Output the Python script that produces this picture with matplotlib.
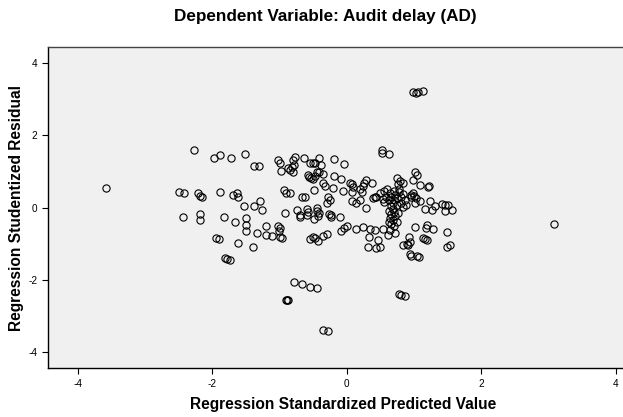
#!/usr/bin/env python3
"""SPSS-style residual scatterplot: studentized residual vs standardized predicted value."""

import matplotlib

matplotlib.use("Agg")
import matplotlib.pyplot as plt

# Regression Standardized Predicted Value (x) and Studentized Residual (y),
# read point by point off the reference chart.
pred_value = [
    # left wing
    -3.58, -2.50, -2.42, -2.27, -2.21, -2.19, -2.15, -2.43, -2.18, -2.18,
    -1.97, -1.89, -1.73, -1.51, -1.38, -1.30, -1.88, -1.69, -1.64, -1.62,
    -1.83, -1.67, -1.53, -1.50, -1.50, -1.50, -1.38, -1.29, -1.26, -1.34,
    -1.21, -1.21, -1.95, -1.90, -1.62, -1.39, -1.82, -1.78, -1.74,
    # centre-left
    -1.12, -1.02, -1.00, -0.98, -0.87, -0.85, -0.80, -0.77, -0.78, -0.80,
    -0.82, -0.93, -0.90, -0.85, -0.92, -1.02, -1.00, -1.01, -0.97, -1.00,
    -0.74, -0.70, -0.60, -0.58, -0.59, -0.69, -0.66, -0.62, -0.64, -0.55,
    -0.51, -0.48, -0.42, -0.38, -0.41, -0.45, -0.36, -0.58, -0.57, -0.54,
    -0.50, -0.48, -0.49, -0.45, -0.44, -0.41, -0.43, -0.49, -0.35, -0.32,
    -0.20, -0.19, -0.09, -0.04, -0.19, -0.28, -0.25, -0.29, -0.26, -0.24,
    -0.23, -0.10, -0.55, -0.50, -0.48, -0.43, -0.35, -0.29, -0.78, -0.67,
    -0.55, -0.44, -0.91, -0.89, -0.87, -0.36, -0.28, -0.05,
    # centre-right
    0.04, 0.07, 0.09, 0.19, 0.24, 0.28, 0.26, 0.38, 0.22, 0.08,
    0.07, 0.14, 0.19, 0.29, 0.42, 0.49, 0.54, 0.44, 0.39, -0.08,
    -0.04, 0.00, 0.14, 0.24, 0.34, 0.42, 0.54, 0.33, 0.47, 0.32,
    0.44, 0.49, 0.52, 0.53, 0.63,
    # dense cluster
    0.74, 0.79, 0.84, 0.76, 0.56, 0.60, 0.64, 0.66, 0.58, 0.62,
    0.70, 0.72, 0.75, 0.78, 0.80, 0.83, 0.86, 0.68, 0.74, 0.80,
    0.88, 0.55, 0.65, 0.84, 0.70, 0.77, 0.62, 0.66, 0.70, 0.64,
    0.68, 0.72, 0.66, 0.70, 0.74, 0.62, 0.76, 0.68, 0.64, 0.71,
    0.61,
    # right wing
    0.99, 1.03, 1.06, 1.14, 1.01, 1.04, 0.99, 1.09, 1.20, 1.22,
    0.98, 0.95, 1.03, 1.09, 1.01, 0.96, 1.00, 1.24, 1.16, 1.26,
    1.31, 1.41, 1.46, 1.51, 1.57, 1.46, 1.01, 1.19, 1.18, 1.28,
    1.49, 0.93, 0.94, 0.84, 0.89, 0.91, 1.13, 1.16, 1.19, 0.94,
    0.96, 1.05, 1.07, 1.49, 1.53, 0.78, 0.81, 0.87, 3.08,
]
stud_resid = [
    # left wing
    0.54, 0.44, 0.41, 1.58, 0.41, 0.33, 0.29, -0.25, -0.17, -0.35,
    1.36, 1.44, 1.36, 1.48, 1.14, 1.16, 0.43, 0.35, 0.40, 0.30,
    -0.25, -0.40, 0.03, -0.30, -0.48, -0.64, 0.05, 0.17, -0.08, -0.71,
    -0.51, -0.75, -0.85, -0.87, -0.99, -1.09, -1.40, -1.42, -1.44,
    # centre-left
    -0.78, 1.32, 1.22, 1.02, 1.09, 1.04, 1.32, 1.41, 1.18, 0.97,
    1.13, 0.49, 0.41, 0.40, -0.14, -0.52, -0.57, -0.64, -0.85, -0.82,
    -0.06, -0.25, -0.04, -0.13, -0.20, -0.20, 0.30, 0.30, 1.36, 1.23,
    1.23, 1.23, 1.36, 1.18, 0.99, 0.97, 0.93, 0.90, 0.84, 0.81,
    0.79, 0.86, 0.49, -0.02, -0.09, -0.15, -0.23, -0.31, 0.67, 0.60,
    0.55, 0.86, 0.79, 1.21, 1.35, 0.30, 0.21, 0.12, -0.18, -0.25,
    -0.20, -0.25, -0.87, -0.82, -0.85, -0.94, -0.78, -0.73, -2.07, -2.12,
    -2.21, -2.22, -2.55, -2.56, -2.55, -3.40, -3.43, 0.47,
    # centre-right
    0.69, 0.65, 0.56, 0.51, 0.60, 0.75, 0.69, 0.69, 0.44, 0.42,
    0.19, 0.12, 0.21, 0.00, 0.28, 0.40, 0.24, 0.30, 0.26, -0.64,
    -0.57, -0.52, -0.60, -0.55, -0.59, -0.62, -0.60, -0.82, -0.89, -1.08,
    -1.12, -1.08, 1.59, 1.52, 1.48,
    # dense cluster
    0.82, 0.72, 0.67, 0.65, 0.45, 0.52, 0.40, 0.30, 0.30, 0.20,
    0.45, 0.35, 0.25, 0.42, 0.30, 0.38, 0.20, 0.12, 0.08, 0.12,
    0.08, 0.15, 0.05, 0.02, 0.22, 0.50, -0.10, -0.18, -0.12, -0.28,
    -0.35, -0.24, -0.45, -0.50, -0.40, -0.40, -0.15, -0.05, -0.62, -0.71,
    -0.75,
    # right wing
    3.19, 3.18, 3.19, 3.22, 0.99, 0.90, 0.77, 0.63, 0.58, 0.60,
    0.41, 0.30, 0.26, 0.17, 0.12, 0.35, 0.33, 0.17, -0.04, -0.08,
    0.03, 0.10, 0.07, 0.06, -0.06, -0.09, -0.55, -0.48, -0.57, -0.59,
    -0.69, -0.83, -0.96, -1.05, -1.00, -1.03, -0.85, -0.87, -0.89, -1.28,
    -1.35, -1.35, -1.38, -1.09, -1.03, -2.40, -2.41, -2.44, -0.45,
]

ticks = [-4, -2, 0, 2, 4]
title = "Dependent Variable: Audit delay (AD)"
x_title = "Regression Standardized Predicted Value"
y_title = "Regression Studentized Residual"


def main() -> int:
    plt.rcParams["font.family"] = ["Liberation Sans", "DejaVu Sans"]
    W, H = 623, 417
    fig = plt.figure(figsize=(W / 100, H / 100), dpi=100)

    # plot frame runs past the right edge of the image, as in the reference
    left, right, top, bottom = 47.7, 646.0, 46.7, 368.3
    ax = fig.add_axes([left / W, 1 - bottom / H, (right - left) / W, (bottom - top) / H])
    ax.set_facecolor("#f0f0f0")

    ax.plot(
        pred_value, stud_resid,
        linestyle="none", marker="o", markersize=5.2,
        markerfacecolor="none", markeredgecolor="black", markeredgewidth=0.8,
    )

    ax.set_xlim(-4.45, 4.45)
    ax.set_ylim(-4.45, 4.45)
    ax.set_xticks(ticks)
    ax.set_yticks(ticks)
    ax.set_xticklabels([str(t) for t in ticks])
    ax.set_yticklabels([str(t) for t in ticks])
    ax.tick_params(direction="out", length=4, width=0.8, labelsize=7.2, pad=3.5, color="black")
    for side in ("left", "bottom", "top", "right"):
        ax.spines[side].set_color("black")
        ax.spines[side].set_linewidth(1.0)
    ax.spines["top"].set_color("#444444")

    fig.text(325 / W, 1 - 17 / H, title, ha="center", va="center", fontsize=12.3, fontweight="bold")
    fig.text(343 / W, 1 - 404 / H, x_title, ha="center", va="center", fontsize=11.2, fontweight="bold")
    fig.text(17 / W, 1 - 208 / H, y_title, ha="center", va="center", rotation=90,
             fontsize=11.2, fontweight="bold")

    fig.savefig("out.png", dpi=100, facecolor="white")
    plt.close(fig)
    return 0


if __name__ == "__main__":
    raise SystemExit(main())
